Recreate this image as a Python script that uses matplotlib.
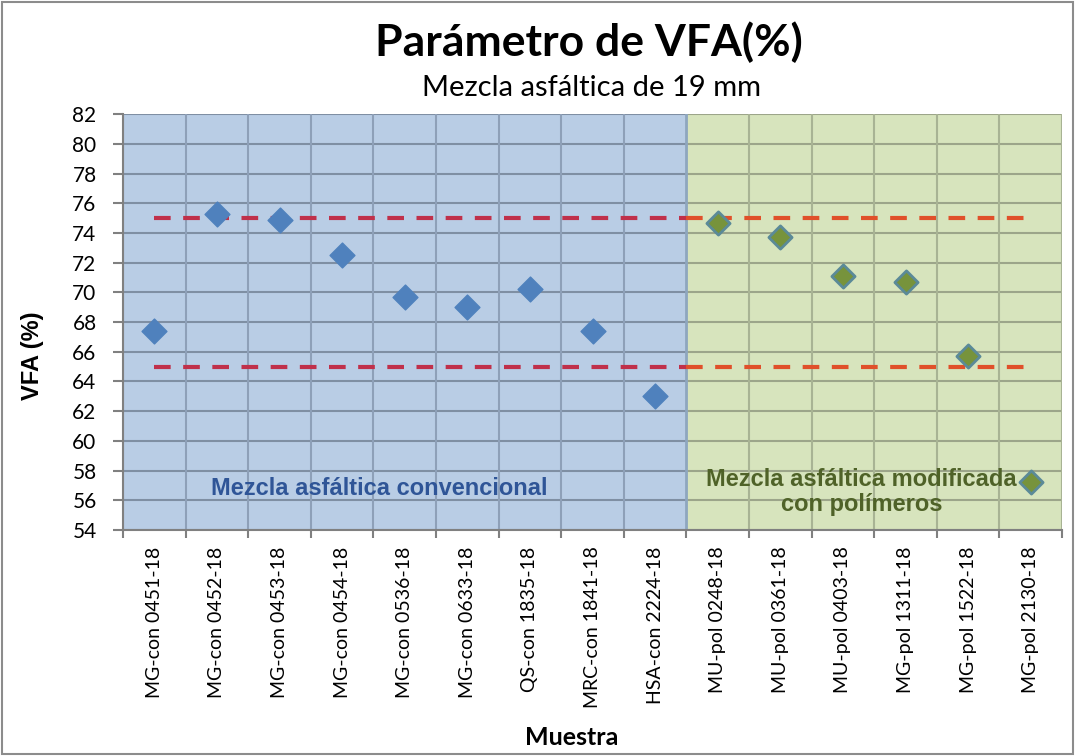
import numpy as np
import matplotlib.pyplot as plt
from matplotlib.patches import Rectangle

# muestras (mezcla convencional y modificada con polimeros)
conv_labels = ["MG-con 0451-18", "MG-con 0452-18", "MG-con 0453-18", "MG-con 0454-18",
               "MG-con 0536-18", "MG-con 0633-18", "QS-con 1835-18", "MRC-con 1841-18",
               "HSA-con 2224-18"]
pol_labels = ["MU-pol 0248-18", "MU-pol 0361-18", "MU-pol 0403-18", "MG-pol 1311-18",
              "MG-pol 1522-18", "MG-pol 2130-18"]
conv_vfa = [67.4, 75.3, 74.9, 72.5, 69.7, 69.0, 70.2, 67.4, 63.0]
pol_vfa = [74.7, 73.7, 71.1, 70.7, 65.7, 57.2]
vfa_min = 65
vfa_max = 75
y_ticks = list(range(54, 83, 2))

labels = conv_labels + pol_labels
n_conv = len(conv_labels)
n = len(labels)
x_conv = np.arange(n_conv)
x_pol = np.arange(n_conv, n)
split = n_conv - 0.5

fig = plt.figure(figsize=(10.75, 7.56), dpi=100)
ax = fig.add_axes([0.1144, 0.299, 0.8736, 0.550])

ax.axvspan(-0.5, split, color="#B9CDE5", zorder=0)
ax.axvspan(split, n - 0.5, color="#D7E4BD", zorder=0)

# rejilla con color distinto en cada zona
ax.hlines(y_ticks, -0.5, split, color="#7F8FA3", lw=1.5, zorder=1)
ax.hlines(y_ticks, split, n - 0.5, color="#9CA58A", lw=1.5, zorder=1)
bounds = np.arange(n + 1) - 0.5
ax.vlines(bounds[bounds < split], 54, 82, color="#8EA0B8", lw=1.5, zorder=1)
ax.vlines(bounds[bounds > split], 54, 82, color="#A8B394", lw=1.5, zorder=1)
ax.axvline(split, color="#8EA6BF", lw=2, zorder=1)

# limites 65% - 75%
for lim in (vfa_min, vfa_max):
    ax.plot([x_conv[0], split], [lim, lim], color="#C0304A", lw=3, ls=(0, (4, 3)), zorder=2)
    ax.plot([split, x_pol[-1]], [lim, lim], color="#E0502A", lw=3, ls=(0, (4, 3)), zorder=2)

ax.scatter(x_conv, conv_vfa, marker="D", s=160, color="#4F81BD", edgecolor="#4F81BD", zorder=3)
ax.scatter(x_pol, pol_vfa, marker="D", s=140, color="#77933C", edgecolor="#5B8A98",
           linewidths=2, zorder=3)

ax.text(3.6, 56.8, "Mezcla asfáltica convencional", color="#2F5597",
        fontsize=17, fontweight="bold", family="Liberation Sans", ha="center", va="center", zorder=4)
ax.text(11.3, 56.55, "Mezcla asfáltica modificada\ncon polímeros",
        color="#4F6228", fontsize=17, fontweight="bold", family="Liberation Sans",
        ha="center", va="center", linespacing=1.1, zorder=4)

ax.set_xlim(-0.5, n - 0.5)
ax.set_ylim(54, 82)
ax.set_yticks(y_ticks)
ax.set_yticklabels([str(v) for v in y_ticks], family="Lato", fontsize=15)
ax.tick_params(axis="y", length=7, width=1.5, color="#808080", pad=12)
ax.set_xticks(np.arange(n))
ax.set_xticklabels(labels, rotation=90, family="Lato", fontsize=14)
ax.tick_params(axis="x", which="major", length=0, pad=12)
ax.set_xticks(bounds, minor=True)
ax.tick_params(axis="x", which="minor", length=6, width=1.5, color="#808080")
for side in ("top", "right"):
    ax.spines[side].set_visible(False)
ax.spines["left"].set_color("#808080")
ax.spines["left"].set_linewidth(1.5)
ax.spines["bottom"].set_color("#808080")
ax.spines["bottom"].set_linewidth(1.5)

ax.set_ylabel("VFA (%)", family="Liberation Sans", fontsize=17, fontweight="bold")
ax.yaxis.set_label_coords(-0.084, 0.42)
fig.text(0.532, 0.014, "Muestra", family="Lato", fontsize=18, fontweight="bold", ha="center")

fig.text(0.548, 0.944, "Parámetro de VFA(%)", family="Lato", fontsize=32, fontweight="bold",
         ha="center", va="center")
fig.text(0.55, 0.883, "Mezcla asfáltica de 19 mm", family="Lato", fontsize=21,
         ha="center", va="center")

fig.patches.append(Rectangle((0.002, 0.002), 0.996, 0.996, transform=fig.transFigure,
                             fill=False, edgecolor="#8C8C8C", lw=1.5))

fig.savefig("out.png", dpi=100)
